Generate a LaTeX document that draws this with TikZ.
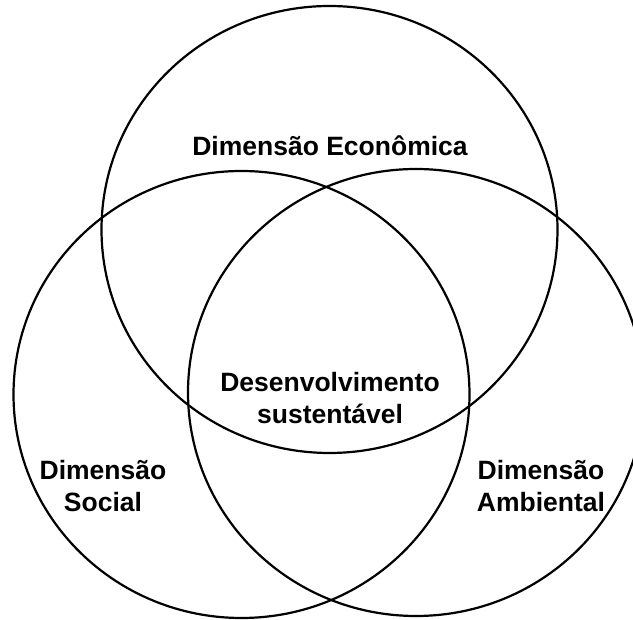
\documentclass[tikz,border=0pt]{standalone}
\usepackage{fontspec}
\setmainfont{Liberation Sans}
\usetikzlibrary{shapes.geometric}
\begin{document}
\begin{tikzpicture}[x={(1pt,0pt)}, y={(0pt,-1pt)},
  esfera/.style={ellipse, draw, line width=2.2pt, minimum width=456pt, minimum height=447pt, inner sep=0pt},
  rotulo/.style={font=\bfseries\fontsize{26.5}{32}\selectfont, align=center}]
  \useasboundingbox (0,0) rectangle (633,620);
  % os tres circulos
  \node[esfera] (economica) at (329.5,229.5) {};
  \node[esfera] (social) at (241.5,394.5) {};
  \node[esfera] (ambiental) at (416,392.5) {};
  % textos
  \node[rotulo] (teco) at (330,146) {Dimensão Econômica};
  \node[rotulo] (tdes) at (330,398) {Desenvolvimento\\sustentável};
  \node[rotulo] (tsoc) at (103,486) {Dimensão\\Social};
  \node[rotulo] (tamb) at (541,486) {Dimensão\\Ambiental};
\end{tikzpicture}
\end{document}
